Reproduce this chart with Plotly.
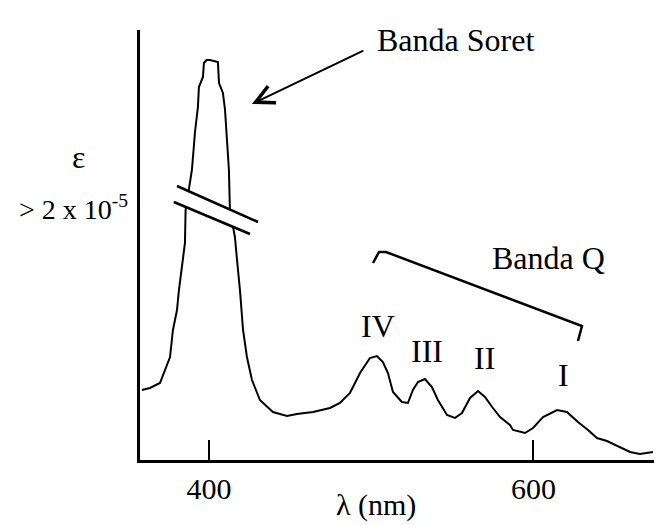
import plotly.graph_objects as go

# Absorption spectrum (relative epsilon, arbitrary units; values above the break are compressed)
wavelength_nm = [358.7, 363.6, 369.8, 372.9, 376.0, 377.8, 380.3, 381.5, 383.4, 385.2,
                 385.6, 389.0, 389.5, 391.4, 393.2, 393.8, 396.3, 396.9, 398.5, 400.6,
                 403.0, 405.5, 406.2, 408.6, 409.9, 411.1, 412.3, 412.9, 415.4, 416.0,
                 417.3, 419.1, 421.0, 423.4, 426.5, 431.4, 439.4, 448.1, 454.2, 464.1,
                 474.6, 480.7, 486.9, 493.1, 499.2, 503.5, 507.2, 510.3, 513.4, 518.9,
                 522.6, 525.7, 528.8, 533.1, 537.4, 541.1, 546.7, 551.6, 555.9, 560.9,
                 565.8, 570.1, 575.0, 579.4, 585.5, 587.4, 594.8, 599.7, 605.9, 614.5,
                 620.6, 627.4, 633.6, 639.1, 645.3, 653.3, 659.5, 665.6, 671.8, 673.6]
epsilon_rel = [70, 72, 77, 90, 103, 130, 150, 170, 197, 217,
               250, 285, 290, 328, 353, 373, 383, 397, 400, 400,
               399, 398, 377, 367, 350, 313, 290, 250, 230, 223,
               200, 170, 130, 103, 80, 60, 48, 44, 46, 48,
               52, 57, 67, 87, 102, 104, 98, 87, 68, 58,
               57, 70, 78, 81, 73, 60, 45, 42, 47, 62,
               69, 63, 52, 43, 35, 30, 27, 32, 43, 50,
               48, 38, 30, 22, 19, 13, 8, 6, 7, 8]

tick_values = [400, 600]
tick_labels = ["400", "600"]
q_band_labels = ["IV", "III", "II", "I"]

FONT = "Liberation Serif, Times New Roman, serif"
FS = 32

fig = go.Figure()
fig.add_trace(go.Scatter(x=wavelength_nm, y=epsilon_rel, mode="lines",
                         line=dict(color="black", width=2), showlegend=False,
                         hoverinfo="skip"))

# axis break: white band plus two slanted lines
fig.add_shape(type="path", xref="x", yref="y",
              path="M 380.3 274 L 430.2 238 L 425.3 226 L 378.4 258 Z",
              fillcolor="white", line=dict(width=0), layer="above")
fig.add_shape(type="line", xref="x", yref="y", x0=380.3, y0=274, x1=430.2, y1=238,
              line=dict(color="black", width=2.5), layer="above")
fig.add_shape(type="line", xref="x", yref="y", x0=378.4, y0=258, x1=425.3, y1=226,
              line=dict(color="black", width=2.5), layer="above")

# Q band bracket
fig.add_shape(type="path", xref="x", yref="y",
              path="M 501.1 197 L 504.8 208 L 509.1 208 L 629.9 134 L 627.4 119",
              line=dict(color="black", width=2.5))

# Soret arrow
fig.add_annotation(x=426.5, y=356, ax=496.1, ay=410, xref="x", yref="y",
                   axref="x", ayref="y", text="", showarrow=True,
                   arrowhead=5, arrowsize=1.8, arrowwidth=2, arrowcolor="black")

ann = [
    ("Banda Soret", 502.3, 420, "left"),
    ("Banda Q", 573.2, 202, "left"),
    (q_band_labels[0], 504.2, 134, "center"),
    (q_band_labels[1], 534.4, 109, "center"),
    (q_band_labels[2], 570.1, 102, "center"),
    (q_band_labels[3], 618.2, 85, "center"),
]
for txt, x, y, xa in ann:
    fig.add_annotation(x=x, y=y, xref="x", yref="y", text=txt, showarrow=False,
                       xanchor=xa, yanchor="middle",
                       font=dict(family=FONT, size=FS, color="black"))

# labels outside the plotting area
fig.add_annotation(x=-0.117, y=0.705, xref="paper", yref="paper", text="ε",
                   showarrow=False, xanchor="center", yanchor="middle",
                   font=dict(family=FONT, size=FS, color="black"))
fig.add_annotation(x=-0.128, y=0.588, xref="paper", yref="paper",
                   text="> 2 x 10<sup>-5</sup>", showarrow=False,
                   xanchor="center", yanchor="middle",
                   font=dict(family=FONT, size=28, color="black"))
fig.add_annotation(x=502.9, y=-0.105, xref="x", yref="paper", text="λ (nm)",
                   showarrow=False, xanchor="center", yanchor="middle",
                   font=dict(family=FONT, size=30, color="black"))

fig.update_layout(
    width=654, height=517,
    margin=dict(l=132, r=0, t=22, b=65),
    paper_bgcolor="white", plot_bgcolor="white",
    font=dict(family=FONT, size=FS, color="black"),
    xaxis=dict(range=[357.5, 679.2], showline=True, linewidth=3, linecolor="black",
               showgrid=False, zeroline=False, ticks="inside", ticklen=20,
               tickwidth=2, tickcolor="black", tickvals=tick_values,
               ticktext=tick_labels, tickfont=dict(family=FONT, size=30)),
    yaxis=dict(range=[0, 430], showline=True, linewidth=3, linecolor="black",
               showgrid=False, zeroline=False, showticklabels=False, ticks=""),
)

fig.write_html("out.html")
